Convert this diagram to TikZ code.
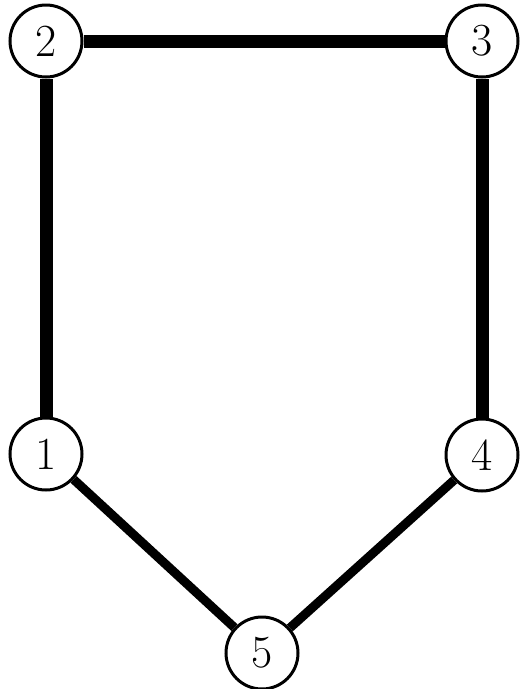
\documentclass[tikz,border=0pt]{standalone}
\begin{document}
\begin{tikzpicture}[x=1pt,y=-1pt,
  vtx/.style={circle,draw=black,line width=3pt,fill=white,minimum size=72pt,inner sep=0pt,font=\fontsize{46}{46}\selectfont},
  thickedge/.style={line width=13pt},
  thinedge/.style={line width=9pt}]
\useasboundingbox (0,0) rectangle (522,689);
\node[vtx] (n2) at (46,41) {2};
\node[vtx] (n3) at (482,41) {3};
\node[vtx] (n1) at (46,454) {1};
\node[vtx] (n4) at (482,455) {4};
\node[vtx] (n5) at (262,653) {5};
\draw[thickedge] (n2) -- (n3);
\draw[thickedge] (n2) -- (n1);
\draw[thickedge] (n3) -- (n4);
\draw[thinedge] (n1) -- (n5);
\draw[thinedge] (n4) -- (n5);
\end{tikzpicture}
\end{document}
